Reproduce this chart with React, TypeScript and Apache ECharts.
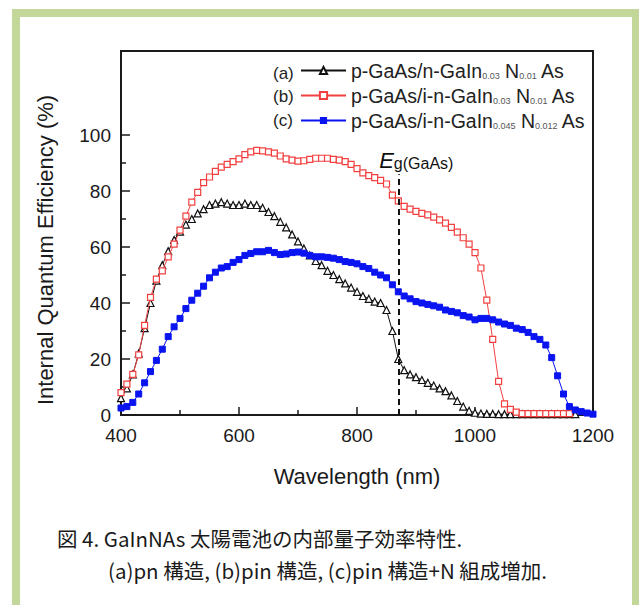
import React, { useEffect, useRef } from "react";
import * as echarts from "echarts";

const wavelengths = [
  400, 410, 420, 430, 440, 450, 460, 470, 480, 490,
  500, 510, 520, 530, 540, 550, 560, 570, 580, 590,
  600, 610, 620, 630, 640, 650, 660, 670, 680, 690,
  700, 710, 720, 730, 740, 750, 760, 770, 780, 790,
  800, 810, 820, 830, 840, 850, 860, 870, 880, 890,
  900, 910, 920, 930, 940, 950, 960, 970, 980, 990,
  1000, 1010, 1020, 1030, 1040, 1050, 1060, 1070, 1080, 1090,
  1100, 1110, 1120, 1130, 1140, 1150, 1160, 1170, 1180, 1190,
  1200,
];

// (a) p-GaAs/n-GaInNAs
const seriesA = [
  6, 9.5, 14.5, 22, 31, 40, 48, 53.5, 58.5, 62.5,
  65.5, 68, 70, 72, 73.5, 75, 75.5, 76, 75.5, 75,
  75, 75.5, 75, 75, 74, 72.5, 71, 69, 67, 64.5,
  62, 59.5, 57, 55, 53.5, 51.5, 50, 48.5, 47, 45.5,
  44, 42.5, 41.5, 40.5, 40, 37.5, 30, 20, 16, 14.5,
  13.5, 12.5, 11.5, 10.5, 9.5, 8.5, 7, 5, 3, 1.5,
  0.8, 0.5, 0.4, 0.4, 0.3, 0.3, 0.3, 0.3, 0.3, 0.3,
  0.3, 0.3, 0.3, 0.3, 0.3, 0.3, 0.3, 0.3, null, null,
  null,
];

// (b) p-GaAs/i-n-GaInNAs
const seriesB = [
  8, 11, 14.5, 21.5, 32, 42, 48.5, 51.5, 56.5, 61,
  66, 71, 76, 79.5, 83, 85, 87, 88.5, 89.5, 90.5,
  91.5, 93, 94, 94.5, 94.3, 94, 93.5, 92.5, 91.5, 91,
  90.7, 90.8, 91.3, 91.7, 91.7, 91.7, 91.3, 91, 90.5, 89.5,
  88, 86.5, 85.5, 84.8, 83.8, 82.5, 78.5, 76.5, 74.5, 73.5,
  72.7, 72, 71.5, 70.7, 69.7, 68.5, 67, 65.3, 63.3, 61,
  58, 52.5, 41, 27, 12, 4, 2, 1, 0.5, 0.5,
  0.5, 0.5, 0.5, 0.5, 0.5, 0.5, 0.5, null, null, null,
  null,
];

// (c) p-GaAs/i-n-GaInNAs (higher N)
const seriesC = [
  2.5, 3, 4.5, 7.5, 11.5, 15.5, 19.5, 23.5, 28, 31.5,
  34.5, 38, 41, 43.5, 46, 49, 51, 52.5, 53, 54.5,
  55.5, 57, 57.7, 58.3, 58.3, 58.8, 58, 57.3, 57.5, 58,
  58.2, 57.8, 57, 56.5, 56.5, 56.3, 56, 55.5, 54.8, 54.5,
  54, 53, 52.3, 51, 50, 49, 46.5, 44, 42.5, 41.5,
  40.5, 40, 39.5, 39, 38.5, 37.5, 37, 36.5, 35.5, 35,
  34, 34.5, 34.5, 34, 33.2, 32.5, 32, 31, 30.5, 29.5,
  28, 27, 25, 20.5, 14, 7.5, 3, 1.8, 1.2, 0.7,
  0.3,
];

const seriesNames = ["(a)", "(b)", "(c)"];
const legendLabels = [
  ["p-GaAs/n-GaIn", "0.03", " N", "0.01", " As"],
  ["p-GaAs/i-n-GaIn", "0.03", " N", "0.01", " As"],
  ["p-GaAs/i-n-GaIn", "0.045", " N", "0.012", " As"],
];
const bandgapWavelength = 870;
const bandgapTop = 86;
const xTicks = { min: 400, max: 1200, interval: 200 };
const yTicks = { min: 0, max: 100, interval: 20 };
const yAxisTitle = "Internal Quantum Efficiency (%)";
const xAxisTitle = "Wavelength (nm)";
const caption1 = "図 4. GaInNAs 太陽電池の内部量子効率特性.";
const caption2 = "(a)pn 構造, (b)pin 構造, (c)pin 構造+N 組成増加.";

const FONT = "'Liberation Sans', Arial, sans-serif";
const CJK = "'Noto Sans CJK JP', sans-serif";

// layout
const W = 639;
const H = 605;
const plotLeft = 121;
const plotRight = 593;
const plotTop = 51;
const plotBottom = 415;
const gridTop = 135;

export default function App() {
  const ref = useRef<HTMLDivElement>(null);
  useEffect(() => {
    if (!ref.current) return;
    const chart = echarts.init(ref.current, undefined, { renderer: "svg" });
    const mk = (vals: (number | null)[]) => wavelengths.map((w, i) => [w, vals[i]]);
    const colors = ["#111111", "#f24040", "#0a14f0"];
    const legendFmt = (name: string) => {
      const idx = seriesNames.indexOf(name);
      const p = legendLabels[idx];
      return `{t|${p[0]}}{s|${p[1]}}{t|${p[2]}}{s|${p[3]}}{t|${p[4]}}`;
    };
    chart.setOption({
      animation: false,
      backgroundColor: "#ffffff",
      grid: {
        left: plotLeft,
        right: W - plotRight,
        top: gridTop,
        bottom: H - plotBottom,
      },
      xAxis: {
        type: "value",
        min: xTicks.min,
        max: xTicks.max,
        interval: xTicks.interval,
        name: xAxisTitle,
        nameLocation: "middle",
        nameGap: 50,
        nameTextStyle: { fontSize: 22, color: "#1a1a1a", fontFamily: FONT },
        axisLine: { lineStyle: { color: "#1a1a1a", width: 2 } },
        axisTick: { inside: true, length: 8, lineStyle: { color: "#1a1a1a", width: 1.5 } },
        minorTick: { show: true, splitNumber: 2, length: 5, lineStyle: { color: "#1a1a1a", width: 1.5 } },
        axisLabel: { fontSize: 19, color: "#1a1a1a", fontFamily: FONT, margin: 11, formatter: (v: number) => String(v) },
        splitLine: { show: false },
      },
      yAxis: {
        type: "value",
        min: yTicks.min,
        max: yTicks.max,
        interval: yTicks.interval,
        axisLine: { show: true, lineStyle: { color: "#1a1a1a", width: 2 } },
        axisTick: { show: true, inside: true, length: 9, lineStyle: { color: "#1a1a1a", width: 1.5 } },
        minorTick: { show: true, splitNumber: 2, length: 5, lineStyle: { color: "#1a1a1a", width: 1.5 } },
        axisLabel: { fontSize: 19, color: "#1a1a1a", fontFamily: FONT, margin: 10 },
        splitLine: { show: false },
      },
      legend: {
        orient: "vertical",
        left: 300,
        top: 61,
        padding: 0,
        itemWidth: 45,
        itemHeight: 9,
        itemGap: 0,
        data: seriesNames,
        formatter: legendFmt,
        textStyle: {
          fontFamily: FONT,
          color: "#222",
          rich: {
            t: { fontSize: 19.5, color: "#222", fontFamily: FONT, lineHeight: 19, padding: [0, 0, 5, 0], verticalAlign: "top" },
            s: { fontSize: 9, color: "#555", fontFamily: FONT, lineHeight: 10, verticalAlign: "bottom" },
          },
        },
      },
      graphic: [
        {
          type: "rect",
          shape: { x: 16, y: 13, width: 620, height: 620 },
          style: { fill: "none", stroke: "#c4d79b", lineWidth: 8 },
          silent: true,
        },
        {
          type: "rect",
          shape: { x: plotLeft, y: plotTop, width: plotRight - plotLeft, height: plotBottom - plotTop },
          style: { fill: "none", stroke: "#1a1a1a", lineWidth: 2 },
          silent: true,
        },
        {
          type: "text",
          x: 45,
          y: 250,
          rotation: Math.PI / 2,
          style: {
            text: yAxisTitle,
            fontSize: 22,
            fontFamily: FONT,
            fill: "#1a1a1a",
            align: "center",
            verticalAlign: "middle",
          },
        },
        ...seriesNames.map((n, i) => ({
          type: "text",
          x: 273,
          y: 73 + i * 23.5,
          style: { text: n, fontSize: 17, fontFamily: FONT, fill: "#222", verticalAlign: "middle" },
        })),
        {
          type: "text",
          x: 57,
          y: 538,
          style: { text: caption1, fontSize: 20.5, fontFamily: CJK, fill: "#1a1a1a", verticalAlign: "middle" },
        },
        {
          type: "text",
          x: 108,
          y: 570,
          style: { text: caption2, fontSize: 20.5, fontFamily: CJK, fill: "#1a1a1a", verticalAlign: "middle" },
        },
      ],
      series: [
        {
          name: seriesNames[0],
          type: "line",
          data: mk(seriesA),
          color: colors[0],
          symbol: "triangle",
          symbolSize: 7,
          showAllSymbol: true,
          itemStyle: { color: "#ffffff", borderColor: colors[0], borderWidth: 1.2 },
          lineStyle: { color: colors[0], width: 1 },
          z: 3,
          markLine: {
            silent: true,
            symbol: ["none", "none"],
            lineStyle: { color: "#111", type: [6, 4], width: 2 },
            label: {
              show: true,
              position: "end",
              distance: 3,
              formatter: "{e|E}{g|g(GaAs)}",
              padding: [0, 0, 0, 36],
              rich: {
                e: { fontSize: 22, fontStyle: "italic", color: "#111", fontFamily: FONT, lineHeight: 22, verticalAlign: "top", padding: [0, 0, 3, 0] },
                g: { fontSize: 16, color: "#111", fontFamily: FONT, lineHeight: 16, verticalAlign: "bottom" },
              },
            },
            data: [[{ coord: [bandgapWavelength, 0] }, { coord: [bandgapWavelength, bandgapTop] }]],
          },
        },
        {
          name: seriesNames[1],
          type: "line",
          data: mk(seriesB),
          color: colors[1],
          symbol: "rect",
          symbolSize: 6,
          showAllSymbol: true,
          itemStyle: { color: "#ffffff", borderColor: colors[1], borderWidth: 1.2 },
          lineStyle: { color: colors[1], width: 1 },
          z: 4,
        },
        {
          name: seriesNames[2],
          type: "line",
          data: mk(seriesC),
          color: colors[2],
          symbol: "rect",
          symbolSize: 6,
          showAllSymbol: true,
          itemStyle: { color: colors[2], borderColor: colors[2] },
          lineStyle: { color: colors[2], width: 1 },
          z: 5,
        },
      ],
    });
    return () => chart.dispose();
  }, []);
  return (
    <div style={{ position: "fixed", left: 0, top: 0, width: W, height: H, background: "#fff" }}>
      <div ref={ref} style={{ width: W, height: H }} />
    </div>
  );
}
